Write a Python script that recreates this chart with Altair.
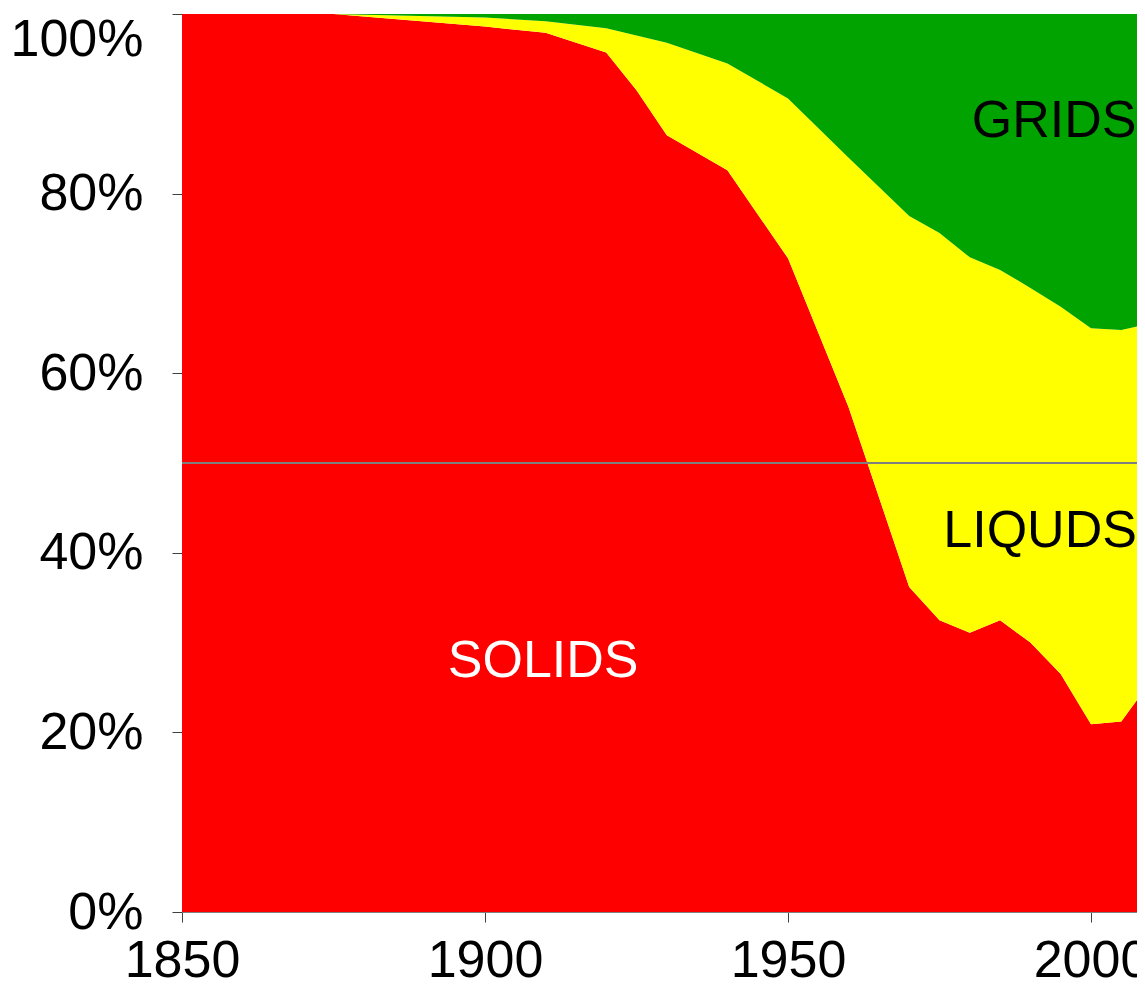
import altair as alt
import pandas as pd

years = [1850, 1875, 1900, 1910, 1920, 1925, 1930, 1940, 1950, 1960,
         1970, 1975, 1980, 1985, 1990, 1995, 2000, 2005, 2009]
solids = [100.0, 100.0, 98.6, 97.9, 95.7, 91.5, 86.5, 82.6, 72.8, 56.2,
          36.2, 32.5, 31.1, 32.5, 30.0, 26.5, 20.9, 21.2, 24.9]
liquids = [0.0, 0.0, 1.0, 1.3, 2.7, 6.1, 10.3, 11.9, 17.8, 27.8,
           41.3, 43.1, 41.8, 39.0, 39.5, 40.9, 44.1, 43.6, 40.5]
grids = [0.0, 0.0, 0.4, 0.8, 1.6, 2.4, 3.2, 5.5, 9.4, 16.0,
         22.5, 24.4, 27.1, 28.5, 30.5, 32.6, 35.0, 35.2, 34.6]

series_names = ["SOLIDS", "LIQUDS", "GRIDS"]
series_colors = ["#FF0000", "#FFFF00", "#00A300"]
x_ticks = [1850, 1900, 1950, 2000]
y_ticks = [0, 0.2, 0.4, 0.6, 0.8, 1.0]

label_text = ["GRIDS", "LIQUDS", "SOLIDS"]
label_x = [1993.9, 1991.6, 1909.6]
label_y = [0.881, 0.424, 0.280]
label_color = ["#000000", "#000000", "#FFFFFF"]

rows = []
for i, (name, vals) in enumerate(zip(series_names, [solids, liquids, grids])):
    for yr, v in zip(years, vals):
        rows.append({"year": yr, "share": v / 100.0, "source": name, "order": i})
df = pd.DataFrame(rows)

labels_df = pd.DataFrame({"x": label_x, "y": label_y, "text": label_text, "color": label_color})

FONT = "Liberation Sans"
PLOT_W = 955
X_MAX = 1850 + PLOT_W / 6.06

x_scale = alt.Scale(domain=[1850, X_MAX], nice=False, zero=False)
x_enc = alt.X("year:Q", scale=x_scale,
              axis=alt.Axis(values=x_ticks, format="d", title=None, grid=False,
                            labelFontSize=52, labelFont=FONT, labelColor="#000000",
                            labelPadding=13, tickSize=10, tickColor="#404040",
                            domainColor="#808080", labelOverlap=False,
                            labelFlush=False))
y_scale = alt.Scale(domain=[0, 1], nice=False)

area = alt.Chart(df).mark_area(interpolate="linear", clip=True).encode(
    x=x_enc,
    y=alt.Y("share:Q", stack="zero", scale=y_scale,
            axis=alt.Axis(values=y_ticks, format="%", title=None, grid=False,
                          labelFontSize=52, labelFont=FONT, labelColor="#000000",
                          labelPadding=29, tickSize=10, tickColor="#404040",
                          domainColor="#808080", labelOverlap=False,
                          labelBaseline=alt.condition("datum.value == 1",
                                                      alt.value("top"),
                                                      alt.value("middle")))),
    color=alt.Color("source:N", scale=alt.Scale(domain=series_names, range=series_colors),
                    legend=None),
    order=alt.Order("order:Q"),
)

rule = alt.Chart(pd.DataFrame({"v": [0.5]})).mark_rule(color="#7F7F7F", strokeWidth=2).encode(
    y=alt.Y("v:Q", scale=y_scale)
)

text = alt.Chart(labels_df).mark_text(fontSize=52, font=FONT, baseline="middle", align="center").encode(
    x=alt.X("x:Q"),
    y=alt.Y("y:Q"),
    text="text:N",
    color=alt.Color("color:N", scale=None),
)

chart = alt.layer(area, rule, text).properties(
    width=PLOT_W, height=898,
    autosize=alt.AutoSizeParams(type="none"),
    padding={"left": 174, "top": 6, "right": 0, "bottom": 75},
).configure_view(stroke=None).configure(background="white")

chart.save("out.html", embed_options={"renderer": "svg", "actions": False})
